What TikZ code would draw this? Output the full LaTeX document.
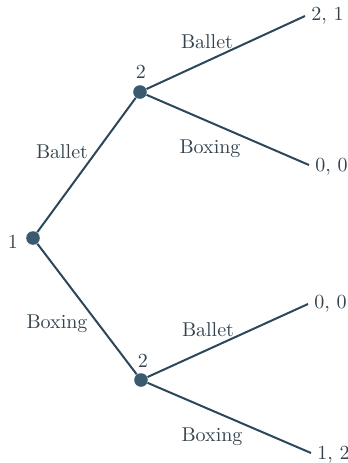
\documentclass[tikz,border=0pt]{standalone}
\definecolor{linecol}{HTML}{2B4759}
\definecolor{nodecol}{HTML}{3A5A70}
\definecolor{textcol}{HTML}{34434E}
\begin{document}
\begin{tikzpicture}[x=0.5pt,y=-0.5pt]
\tikzset{
  dec/.style={circle, fill=nodecol, minimum size=6.8pt, inner sep=0pt},
  edge/.style={draw=linecol, line width=1pt},
  lab/.style={text=textcol, font=\fontsize{10}{12}\selectfont, inner sep=1pt}
}
\useasboundingbox (0,0) rectangle (348,463);
% decision nodes
\node[dec] (r) at (33,238) {};
\node[dec] (a) at (140,92) {};
\node[dec] (b) at (141,380) {};
% terminal points
\coordinate (l1) at (305,16);
\coordinate (l2) at (309,165);
\coordinate (l3) at (308,304);
\coordinate (l4) at (311,453);
% edges
\draw[edge] (r) -- (a);
\draw[edge] (r) -- (b);
\draw[edge] (a) -- (l1);
\draw[edge] (a) -- (l2);
\draw[edge] (b) -- (l3);
\draw[edge] (b) -- (l4);
% player labels
\node[lab] (p1) at (13,242) {1};
\node[lab] (p2a) at (141,72) {2};
\node[lab] (p2b) at (143,361) {2};
% action labels
\node[lab] (e1) at (62,152) {Ballet};
\node[lab] (e2) at (57,324) {Boxing};
\node[lab] (e3) at (207,42) {Ballet};
\node[lab] (e4) at (210,149) {Boxing};
\node[lab] (e5) at (208,330) {Ballet};
\node[lab] (e6) at (212,437) {Boxing};
% payoffs
\node[lab, anchor=west] (o1) at ([xshift=2pt]l1) {2, 1};
\node[lab, anchor=west] (o2) at ([xshift=2pt,yshift=-1pt]l2) {0, 0};
\node[lab, anchor=west] (o3) at ([xshift=2pt]l3) {0, 0};
\node[lab, anchor=west] (o4) at ([xshift=2pt,yshift=-1pt]l4) {1, 2};
\end{tikzpicture}
\end{document}
